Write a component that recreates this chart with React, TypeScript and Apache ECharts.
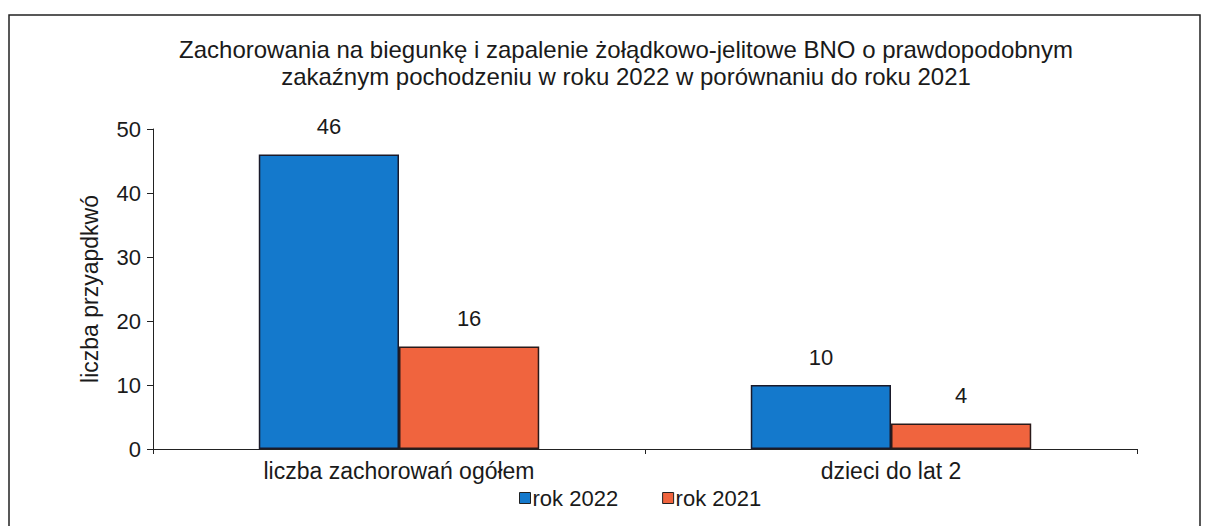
import React, { useEffect, useRef } from "react";
import * as echarts from "echarts";

const categories = ["liczba zachorowań ogółem", "dzieci do lat 2"];
const seriesNames = ["rok 2022", "rok 2021"];
const values2022 = [46, 10];
const values2021 = [16, 4];
const yTicks = { min: 0, max: 50, interval: 10 };
const titleText =
  "Zachorowania na biegunkę i zapalenie żołądkowo-jelitowe BNO o prawdopodobnym\nzakaźnym pochodzeniu w roku 2022 w porównaniu do roku 2021";
const yAxisName = "liczba przyapdkwó";

const FONT = "Liberation Sans, Arial, sans-serif";

export default function App() {
  const ref = useRef<HTMLDivElement>(null);
  useEffect(() => {
    if (!ref.current) return;
    const chart = echarts.init(ref.current, undefined, { renderer: "svg" });
    const labelStyle = {
      show: true,
      position: "top",
      distance: 17,
      fontFamily: FONT,
      fontSize: 22,
      color: "#1a1a1a",
    };
    chart.setOption({
      animation: false,
      backgroundColor: "#ffffff",
      title: {
        text: titleText,
        left: 621,
        top: 31,
        textAlign: "center",
        textStyle: {
          fontFamily: FONT,
          fontSize: 24,
          fontWeight: "normal",
          color: "#1a1a1a",
          lineHeight: 27,
        },
      },
      graphic: [
        {
          type: "rect",
          shape: { x: 9, y: 15, width: 1191, height: 530 },
          style: { fill: "none", stroke: "#222", lineWidth: 1.5 },
          silent: true,
        },
      ],
      legend: {
        data: seriesNames,
        left: 514,
        top: 482,
        itemGap: 44,
        itemWidth: 11,
        itemHeight: 11,
        icon: "rect",
        textStyle: { fontFamily: FONT, fontSize: 22, color: "#1a1a1a", padding: [0, 0, 0, -3] },
        itemStyle: { borderColor: "#222", borderWidth: 1 },
      },
      grid: { left: 153, right: 71, top: 129, bottom: 77, containLabel: false },
      xAxis: {
        type: "category",
        data: categories,
        axisLine: { lineStyle: { color: "#222", width: 1 } },
        axisTick: { show: true, alignWithLabel: false, length: 5, lineStyle: { color: "#222" } },
        axisLabel: { fontFamily: FONT, fontSize: 23, color: "#1a1a1a", margin: 10 },
      },
      yAxis: {
        type: "value",
        min: yTicks.min,
        max: yTicks.max,
        interval: yTicks.interval,
        name: yAxisName,
        nameLocation: "middle",
        nameGap: 52,
        nameTextStyle: { fontFamily: FONT, fontSize: 23, color: "#1a1a1a" },
        axisLine: { show: true, lineStyle: { color: "#222", width: 1 } },
        axisTick: { show: true, length: 6, lineStyle: { color: "#222" } },
        splitLine: { show: false },
        axisLabel: { fontFamily: FONT, fontSize: 22, color: "#1a1a1a", margin: 12 },
      },
      series: [
        {
          name: seriesNames[0],
          type: "bar",
          data: values2022,
          barGap: "0%",
          barCategoryGap: "43%",
          itemStyle: { color: "#1479cc", borderColor: "#1a1a2a", borderWidth: 1.5 },
          label: labelStyle,
        },
        {
          name: seriesNames[1],
          type: "bar",
          data: values2021,
          itemStyle: { color: "#f0643e", borderColor: "#2a1a1a", borderWidth: 1.5 },
          label: labelStyle,
        },
      ],
    });
    return () => chart.dispose();
  }, []);
  return (
    <div
      ref={ref}
      style={{ position: "fixed", left: 0, top: 0, width: 1208, height: 526 }}
    />
  );
}
